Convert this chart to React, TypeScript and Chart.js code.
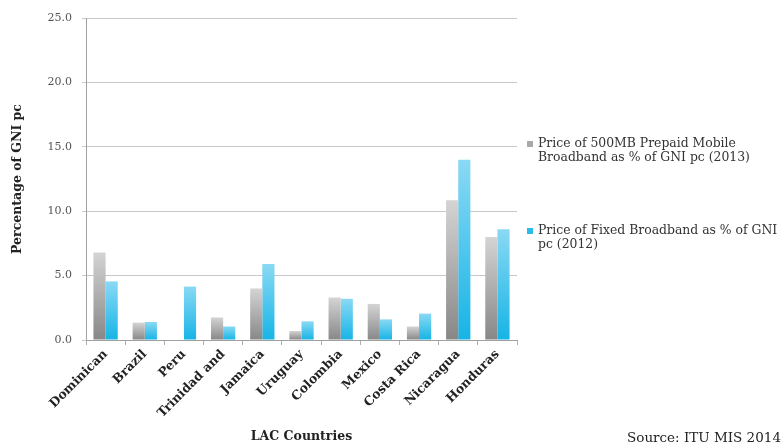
import React, { useEffect, useRef } from "react";
import { Chart, registerables } from "chart.js";

Chart.register(...registerables);

const categories = [
  "Dominican",
  "Brazil",
  "Peru",
  "Trinidad and",
  "Jamaica",
  "Uruguay",
  "Colombia",
  "Mexico",
  "Costa Rica",
  "Nicaragua",
  "Honduras",
];
const mobilePrices = [6.8, 1.35, 0, 1.75, 4.0, 0.7, 3.3, 2.8, 1.05, 10.85, 8.0];
const fixedPrices = [4.55, 1.4, 4.15, 1.05, 5.9, 1.45, 3.2, 1.6, 2.05, 14.0, 8.6];
const seriesLabels = [
  "Price of 500MB Prepaid Mobile Broadband as % of GNI pc (2013)",
  "Price of Fixed Broadband as % of GNI pc (2012)",
];
const legendLines = [
  ["Price of 500MB Prepaid Mobile", "Broadband as % of GNI pc (2013)"],
  ["Price of Fixed Broadband as % of GNI", "pc (2012)"],
];
const yAxisTitle = "Percentage of GNI pc";
const xAxisTitle = "LAC Countries";
const sourceText = "Source: ITU MIS 2014";

const SERIF = '"DejaVu Serif", "Liberation Serif", serif';

function barGradient(light: string, dark: string) {
  return (ctx: any) => {
    const chart = ctx.chart;
    if (!chart.chartArea || ctx.type !== "data") return dark;
    const y = chart.scales.y;
    const v = ctx.parsed ? ctx.parsed.y : ctx.raw;
    const top = y.getPixelForValue(v);
    const bottom = y.getPixelForValue(0);
    if (!(bottom > top + 0.5)) return dark;
    const g = chart.ctx.createLinearGradient(0, top, 0, bottom);
    g.addColorStop(0, light);
    g.addColorStop(1, dark);
    return g;
  };
}

const overlayPlugin = {
  id: "overlay",
  afterDraw(chart: any) {
    const c = chart.ctx as CanvasRenderingContext2D;
    c.save();
    const markers = ["#a9a9a9", "#2bbde9"];
    const startY = [144, 231];
    c.font = `12.4px ${SERIF}`;
    c.textBaseline = "middle";
    c.textAlign = "left";
    legendLines.forEach((lines, i) => {
      c.fillStyle = markers[i];
      c.fillRect(527, startY[i] - 3, 6, 6);
      c.fillStyle = "#333";
      lines.forEach((t, j) => c.fillText(t, 538, startY[i] + j * 14));
    });
    c.font = `13.5px ${SERIF}`;
    c.fillStyle = "#222";
    c.fillText(sourceText, 627, 438);
    c.restore();
  },
};

export default function App() {
  const ref = useRef<HTMLCanvasElement>(null);
  useEffect(() => {
    if (!ref.current) return;
    const chart = new Chart(ref.current, {
      type: "bar",
      data: {
        labels: categories,
        datasets: [
          {
            label: seriesLabels[0],
            data: mobilePrices,
            backgroundColor: barGradient("#d4d4d4", "#878787"),
            barPercentage: 1,
            categoryPercentage: 0.62,
          },
          {
            label: seriesLabels[1],
            data: fixedPrices,
            backgroundColor: barGradient("#8ad9f4", "#16b4e6"),
            barPercentage: 1,
            categoryPercentage: 0.62,
          },
        ],
      },
      options: {
        animation: false,
        responsive: false,
        maintainAspectRatio: false,
        layout: { padding: { left: 10, top: 18, right: 266, bottom: 0 } },
        plugins: {
          legend: { display: false },
          tooltip: { enabled: false },
        },
        scales: {
          x: {
            grid: {
              offset: true,
              drawOnChartArea: false,
              color: "#b0b0b0",
              tickLength: 5,
            },
            border: { color: "#a0a0a0" },
            ticks: {
              maxRotation: 45,
              minRotation: 45,
              color: "#222",
              font: { family: SERIF, size: 12.5, weight: "bold" },
              padding: 2,
            },
            title: {
              display: true,
              text: xAxisTitle,
              color: "#222",
              font: { family: SERIF, size: 12.5, weight: "bold" },
              padding: { top: 0, bottom: 1 },
            },
            afterFit(scale: any) {
              scale.height = 105;
            },
          },
          y: {
            min: 0,
            max: 25,
            ticks: {
              stepSize: 5,
              color: "#555",
              font: { family: SERIF, size: 11 },
              callback: (v: any) => Number(v).toFixed(1),
              padding: 10,
            },
            grid: { color: "#c8c8c8", tickLength: 4 },
            border: { color: "#a0a0a0" },
            title: {
              display: true,
              text: yAxisTitle,
              color: "#222",
              font: { family: SERIF, size: 12.5, weight: "bold" },
              padding: { top: 0, bottom: 0 },
            },
            afterFit(scale: any) {
              scale.width = 76;
            },
          },
        },
      },
      plugins: [overlayPlugin],
    } as any);
    return () => chart.destroy();
  }, []);
  return (
    <div
      style={{
        position: "fixed",
        left: 0,
        top: 0,
        width: 783,
        height: 445,
        background: "#fff",
      }}
    >
      <canvas ref={ref} width={783} height={445} style={{ display: "block" }} />
    </div>
  );
}
